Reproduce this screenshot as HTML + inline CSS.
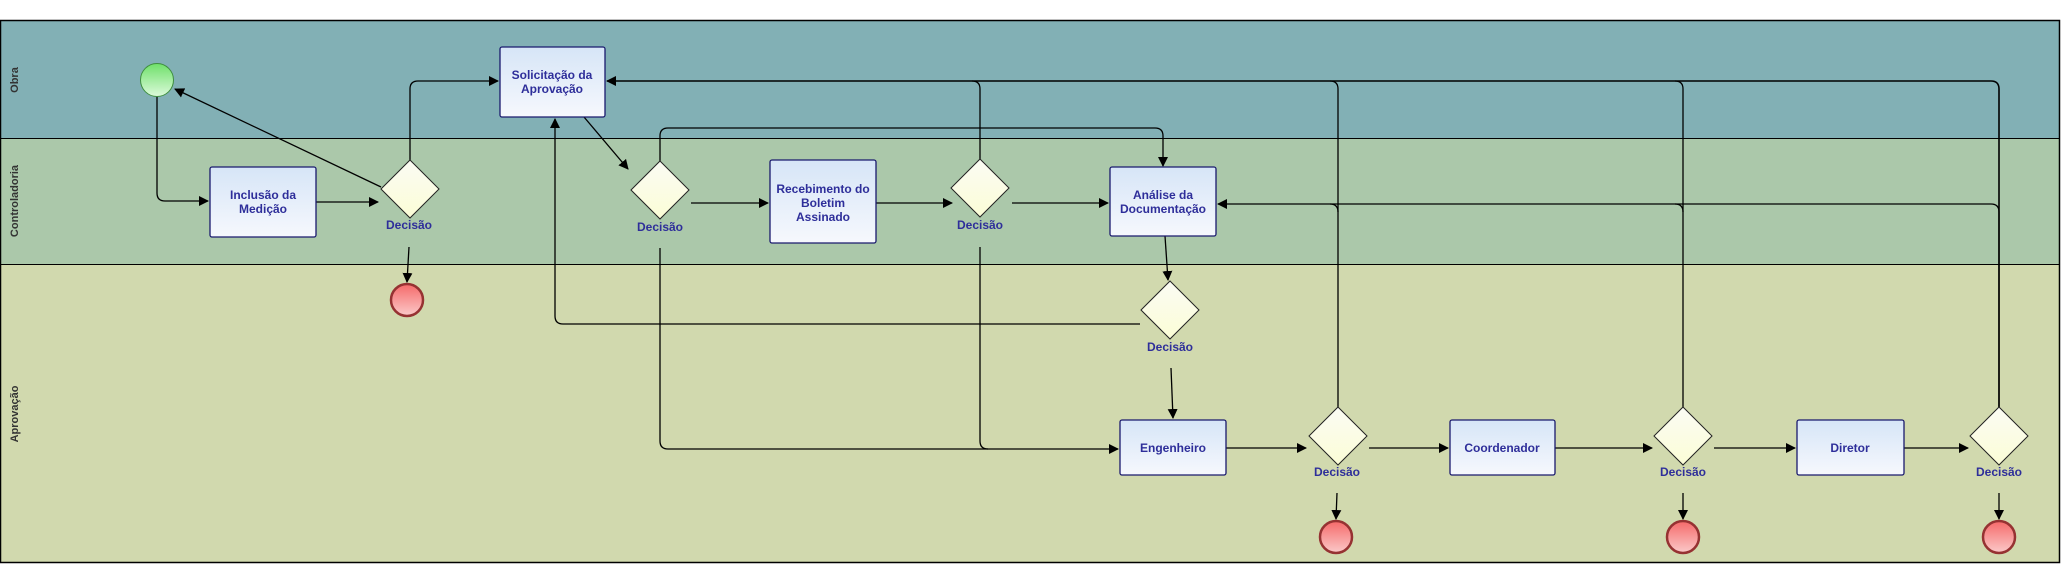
<!DOCTYPE html>
<html><head><meta charset="utf-8"><style>
html,body{margin:0;padding:0;background:#fff;}
svg{display:block;}
text{font-family:"Liberation Sans",sans-serif;}
</style></head><body>
<svg width="2061" height="567" viewBox="0 0 2061 567" xmlns="http://www.w3.org/2000/svg">
<defs>
<linearGradient id="bx" x1="0" y1="0" x2="0" y2="1"><stop offset="0" stop-color="#d6e5f7"/><stop offset="1" stop-color="#f6f8fd"/></linearGradient>
<linearGradient id="dm" x1="0" y1="0" x2="0" y2="1"><stop offset="0" stop-color="#fbfcf4"/><stop offset="1" stop-color="#fbfdd6"/></linearGradient>
<linearGradient id="gs" x1="0" y1="0" x2="0" y2="1"><stop offset="0" stop-color="#6fe06a"/><stop offset="1" stop-color="#dcfadb"/></linearGradient>
<linearGradient id="re" x1="0" y1="0" x2="0" y2="1"><stop offset="0" stop-color="#f56a6a"/><stop offset="1" stop-color="#fbcaca"/></linearGradient>
<marker id="a" markerWidth="10" markerHeight="10" refX="9" refY="5" orient="auto" markerUnits="userSpaceOnUse"><path d="M0,0 L10,5 L0,10 z" fill="#000"/></marker>
</defs>
<rect x="0" y="20" width="2060" height="118" fill="#82b0b5"/>
<rect x="0" y="138" width="2060" height="126" fill="#abc8aa"/>
<rect x="0" y="264" width="2060" height="299" fill="#d1d9ae"/>
<rect x="0.5" y="20.5" width="2059" height="542" fill="none" stroke="#000" stroke-width="1.5"/>
<line x1="0" y1="138.5" x2="2060" y2="138.5" stroke="#000"/>
<line x1="0" y1="264.5" x2="2060" y2="264.5" stroke="#000"/>
<g font-size="11" font-weight="bold" fill="#333" text-anchor="middle">
<text transform="translate(18,80) rotate(-90)">Obra</text>
<text transform="translate(18,201) rotate(-90)">Controladoria</text>
<text transform="translate(18,414) rotate(-90)">Aprovação</text>
</g>
<g fill="none" stroke="#000" stroke-width="1.3">
<path d="M157,97 V193 q0,8 8,8 H208" marker-end="url(#a)"/>
<path d="M316,202 H378" marker-end="url(#a)"/>
<path d="M381,187 L175,89" marker-end="url(#a)"/>
<path d="M410,160 V89 q0,-8 8,-8 H498" marker-end="url(#a)"/>
<path d="M409,247 L407,282" marker-end="url(#a)"/>
<path d="M584,117 L628,169" marker-end="url(#a)"/>
<path d="M660,161 V136 q0,-8 8,-8 H1155 q8,0 8,8 V166" marker-end="url(#a)"/>
<path d="M691,203 H768" marker-end="url(#a)"/>
<path d="M660,248 V441 q0,8 8,8 H1118" marker-end="url(#a)"/>
<path d="M1140,324 H563 q-8,0 -8,-8 V119" marker-end="url(#a)"/>
<path d="M876,203 H952" marker-end="url(#a)"/>
<path d="M1012,203 H1108" marker-end="url(#a)"/>
<path d="M980,160 V89 q0,-8 -8,-8"/>
<path d="M980,247 V441 q0,8 8,8"/>
<path d="M1999,407 V89 q0,-8 -8,-8 H607" stroke-width="1.6" marker-end="url(#a)"/>
<path d="M1683,407 V89 q0,-8 -8,-8"/>
<path d="M1338,407 V89 q0,-8 -8,-8"/>
<path d="M1999,407 V212 q0,-8 -8,-8 H1218" marker-end="url(#a)"/>
<path d="M1683,212 q0,-8 -8,-8"/>
<path d="M1338,212 q0,-8 -8,-8"/>
<path d="M1165,236 L1168,280" marker-end="url(#a)"/>
<path d="M1171,368 L1173,418" marker-end="url(#a)"/>
<path d="M1226,448 H1306" marker-end="url(#a)"/>
<path d="M1369,448 H1448" marker-end="url(#a)"/>
<path d="M1555,448 H1652" marker-end="url(#a)"/>
<path d="M1714,448 H1795" marker-end="url(#a)"/>
<path d="M1904,448 H1968" marker-end="url(#a)"/>
<path d="M1337,493 L1336,519" marker-end="url(#a)"/>
<path d="M1683,493 V519" marker-end="url(#a)"/>
<path d="M1999,493 V519" marker-end="url(#a)"/>
</g>
<circle cx="157" cy="80" r="16.5" fill="url(#gs)" stroke="#3f8f3f" stroke-width="1"/>
<g fill="url(#re)" stroke="#963232" stroke-width="2.5">
<circle cx="407" cy="300" r="16"/>
<circle cx="1336" cy="537" r="16"/>
<circle cx="1683" cy="537" r="16"/>
<circle cx="1999" cy="537" r="16"/>
</g>
<g fill="url(#bx)" stroke="#1a1a6e" stroke-width="1.3">
<rect x="210" y="167" width="106" height="70" rx="2"/>
<rect x="500" y="47" width="105" height="70" rx="2"/>
<rect x="770" y="160" width="106" height="83" rx="2"/>
<rect x="1110" y="167" width="106" height="69" rx="2"/>
<rect x="1120" y="420" width="106" height="55" rx="2"/>
<rect x="1450" y="420" width="105" height="55" rx="2"/>
<rect x="1797" y="420" width="107" height="55" rx="2"/>
</g>
<g fill="url(#dm)" stroke="#222" stroke-width="1">
<path d="M410,160 L439,189 L410,218 L381,189 z"/>
<path d="M660,161 L689,190 L660,219 L631,190 z"/>
<path d="M980,159 L1009,188 L980,217 L951,188 z"/>
<path d="M1170,281 L1199,310 L1170,339 L1141,310 z"/>
<path d="M1338,407 L1367,436 L1338,465 L1309,436 z"/>
<path d="M1683,407 L1712,436 L1683,465 L1654,436 z"/>
<path d="M1999,407 L2028,436 L1999,465 L1970,436 z"/>
</g>
<g font-size="12" font-weight="bold" fill="#2e2e9a" text-anchor="middle">
<text x="263" y="199">Inclusão da</text><text x="263" y="213">Medição</text>
<text x="552" y="79">Solicitação da</text><text x="552" y="93">Aprovação</text>
<text x="823" y="193">Recebimento do</text><text x="823" y="207">Boletim</text><text x="823" y="221">Assinado</text>
<text x="1163" y="199">Análise da</text><text x="1163" y="213">Documentação</text>
<text x="1173" y="452">Engenheiro</text>
<text x="1502" y="452">Coordenador</text>
<text x="1850" y="452">Diretor</text>
<text x="409" y="229">Decisão</text>
<text x="660" y="231">Decisão</text>
<text x="980" y="229">Decisão</text>
<text x="1170" y="351">Decisão</text>
<text x="1337" y="476">Decisão</text>
<text x="1683" y="476">Decisão</text>
<text x="1999" y="476">Decisão</text>
</g>
</svg>
</body></html>
